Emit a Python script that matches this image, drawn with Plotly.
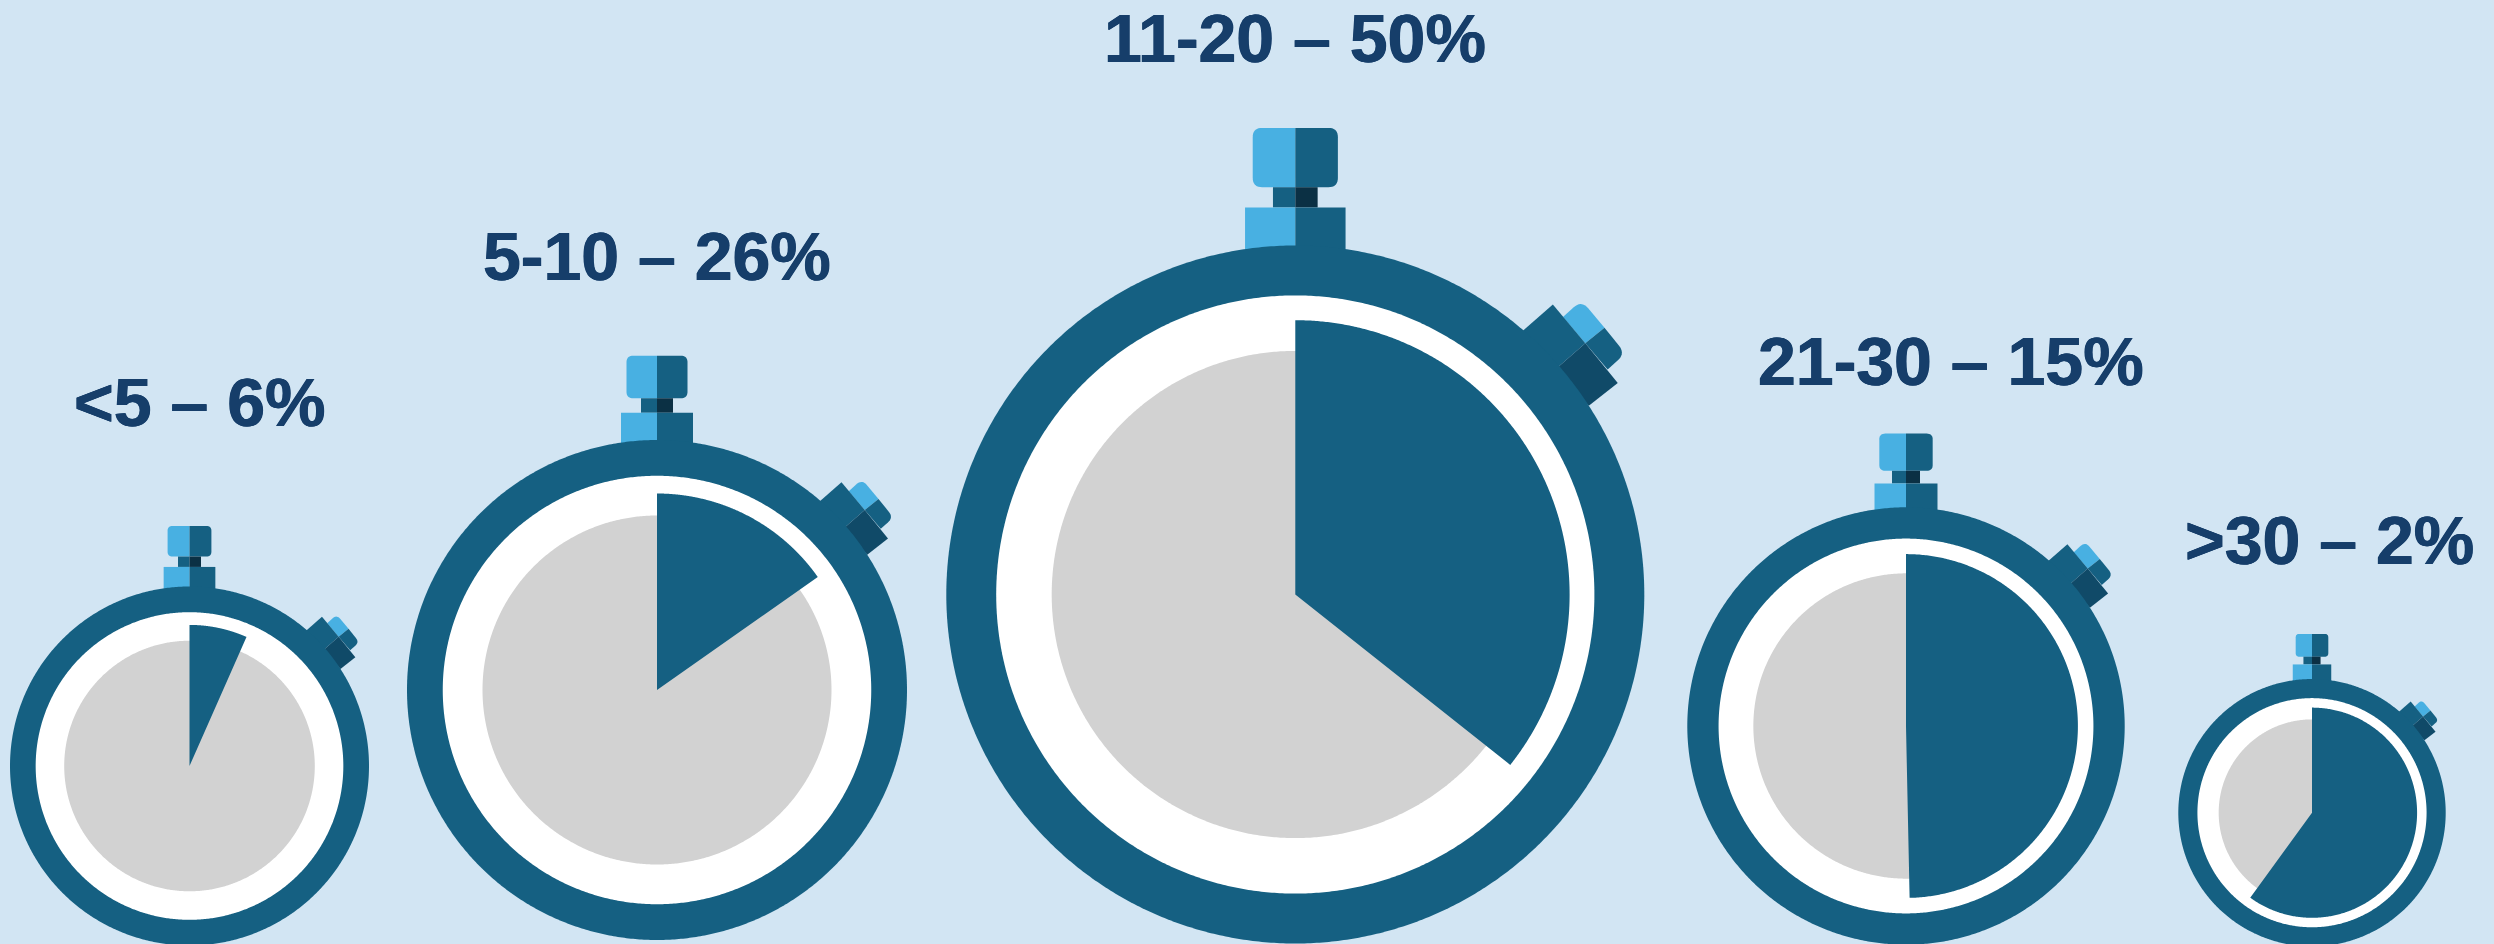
import numpy as np
import plotly.graph_objects as go

# ---- data ----
bands = ["<5", "5-10", "11-20", "21-30", ">30"]
shares = [6, 26, 50, 15, 2]
dial_minutes = [3.97, 9.15, 21.4, 29.8, 36.0]

# ---- placement (pixels of the 2494x944 page) ----
center_x = [189.5, 657, 1295.3, 1906, 2312]
center_y = [766, 690, 594.5, 726, 812.7]
outer_r = [179.5, 250, 349, 218.7, 133.7]
label_x = [199, 657, 1295, 1951, 2329]
label_y = [402, 256, 38, 361, 540]

BG = "#D2E5F3"
BLUE = "#156082"
LIGHT = "#48B0E2"
NAVY = "#0B3044"
DEEP = "#104A68"
GREY = "#D2D2D2"
WHITE = "#FFFFFF"
INK = "#163E6A"
WHITE_K, SECTOR_K, GREY_K = 0.857, 0.786, 0.698

fig = go.Figure()


def add_poly(xs, ys, color):
    fig.add_trace(go.Scatter(x=xs, y=ys, mode="lines", fill="toself", fillcolor=color,
                             line=dict(width=0, color=color, simplify=False), hoverinfo="skip", showlegend=False))


def rounded(points, radii):
    out = []
    n = len(points)
    for i in range(n):
        p = np.array(points[i], float)
        r = radii[i]
        if r == 0:
            out.append(p)
            continue
        a = np.array(points[i - 1], float)
        b = np.array(points[(i + 1) % n], float)
        s = p + (a - p) / np.linalg.norm(a - p) * r
        e = p + (b - p) / np.linalg.norm(b - p) * r
        for t in np.linspace(0, 1, 10):
            out.append((1 - t) ** 2 * s + 2 * t * (1 - t) * p + t ** 2 * e)
    return np.array(out)


def add_unit_poly(cx, cy, R, points, radii, color):
    pts = rounded(points, radii)
    add_poly(cx + pts[:, 0] * R, cy + pts[:, 1] * R, color)


def add_disc(cx, cy, r, color):
    t = np.linspace(0, 2 * np.pi, 721)
    add_poly(cx + r * np.sin(t), cy - r * np.cos(t), color)


def add_sector(cx, cy, r, minutes, color):
    t = np.linspace(0, minutes / 60 * 2 * np.pi, 361)
    xs = np.concatenate([[cx], cx + r * np.sin(t), [cx]])
    ys = np.concatenate([[cy], cy - r * np.cos(t), [cy]])
    add_poly(xs, ys, color)


for cx, cy, R, minutes in zip(center_x, center_y, outer_r, dial_minutes):
    # crown
    add_unit_poly(cx, cy, R, [(-.122, -1.337), (0, -1.337), (0, -1.167), (-.122, -1.167)], [.027, 0, 0, .027], LIGHT)
    add_unit_poly(cx, cy, R, [(0, -1.337), (.122, -1.337), (.122, -1.167), (0, -1.167)], [0, .027, .027, 0], BLUE)
    add_unit_poly(cx, cy, R, [(-.064, -1.167), (0, -1.167), (0, -1.109), (-.064, -1.109)], [0] * 4, BLUE)
    add_unit_poly(cx, cy, R, [(0, -1.167), (.064, -1.167), (.064, -1.109), (0, -1.109)], [0] * 4, NAVY)
    add_unit_poly(cx, cy, R, [(-.144, -1.109), (0, -1.109), (0, -.95), (-.144, -.95)], [0] * 4, LIGHT)
    add_unit_poly(cx, cy, R, [(0, -1.109), (.144, -1.109), (.144, -.95), (0, -.95)], [0] * 4, BLUE)
    # side pusher
    add_unit_poly(cx, cy, R, [(.767, -.795), (.820, -.843), (.886, -.764), (.831, -.72)], [0, .03, 0, 0], LIGHT)
    add_unit_poly(cx, cy, R, [(.831, -.72), (.886, -.764), (.946, -.690), (.895, -.645)], [0, 0, .03, 0], BLUE)
    add_unit_poly(cx, cy, R, [(.64, -.745), (.738, -.831), (.831, -.72), (.745, -.645)], [0] * 4, BLUE)
    add_unit_poly(cx, cy, R, [(.831, -.72), (.924, -.606), (.841, -.541), (.745, -.645)], [0] * 4, DEEP)
    # dial
    add_disc(cx, cy, R, BLUE)
    add_disc(cx, cy, R * WHITE_K, WHITE)
    add_disc(cx, cy, R * GREY_K, GREY)
    add_sector(cx, cy, R * SECTOR_K, minutes, BLUE)

SHADOW = f"0.5px 0 0 {INK}, -0.5px 0 0 {INK}"
annotations = [
    dict(x=x, y=y, xref="x", yref="y", text=f"{b} – {s}%", showarrow=False,
         xanchor="center", yanchor="middle",
         font=dict(family="Liberation Sans", size=68, color=INK, weight=700, shadow=SHADOW))
    for b, s, x, y in zip(bands, shares, label_x, label_y)
]

fig.update_layout(
    width=2494, height=944, margin=dict(l=0, r=0, t=0, b=0),
    paper_bgcolor=BG, plot_bgcolor=BG, showlegend=False, annotations=annotations,
    xaxis=dict(range=[0, 2494], visible=False, fixedrange=True),
    yaxis=dict(range=[944, 0], visible=False, fixedrange=True),
)
fig.write_html("out.html", config=dict(displayModeBar=False),
               post_script="document.body.style.margin='0';document.body.style.background='#D2E5F3';")
